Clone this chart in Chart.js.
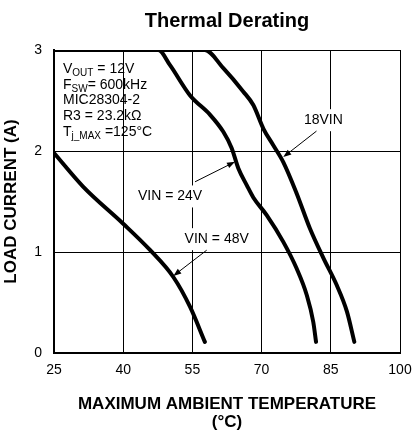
<!DOCTYPE html>
<html>
<head>
<meta charset="utf-8">
<script src="https://cdn.jsdelivr.net/npm/chart.js@4.4.1/dist/chart.umd.min.js"></script>
<style>
html, body { margin: 0; padding: 0; background: #fff; }
#wrap { width: 413px; height: 434px; }
</style>
</head>
<body>
<div id="wrap"><canvas id="myChart" width="413" height="434"></canvas></div>
<script>
const xTicks = [25, 40, 55, 70, 85, 100];
const yTicks = [0, 1, 2, 3];

// (temperature in C, load current in A)
const vin18Temp = [25, 57.7, 61.7, 66.0, 68.2, 70.4, 72.5, 74.7, 77.6, 80.5, 83.4, 86.3, 88.5, 90.1];
const vin18Load = [3, 3, 2.82, 2.59, 2.455, 2.22, 2.06, 1.89, 1.58, 1.23, 0.94, 0.67, 0.41, 0.11];

const vin24Temp = [25, 47.6, 50.15, 54.5, 58.8, 61.7, 63.5, 64.95, 66.8, 68.2, 71.1, 74.7, 77.6, 79.8, 81.2, 81.8];
const vin24Load = [3, 3, 2.85, 2.55, 2.36, 2.19, 2.03, 1.83, 1.66, 1.54, 1.365, 1.10, 0.836, 0.572, 0.307, 0.11];

const vin48Temp = [25, 31.35, 40.0, 45.8, 50.9, 54.5, 57.7];
const vin48Load = [1.98, 1.645, 1.28, 1.02, 0.75, 0.456, 0.11];

// curve labels: text position and arrow (from -> to), all in data units
const noteText = ['18VIN', 'VIN = 24V', 'VIN = 48V'];
const noteAt = [[83.4, 2.305], [50.15, 1.55], [60.27, 1.127]];
const arrowFrom = [[81.9, 2.197], [55.57, 1.695], [58.1, 1.018]];
const arrowTo = [[74.7, 1.94], [64.24, 1.893], [50.86, 0.763]];

// conditions box, [text, subscript] pieces per line
const infoLines = [
    [['V', 0], ['OUT', 1], [' = 12V', 0]],
    [['F', 0], ['SW', 1], ['= 600kHz', 0]],
    [['MIC28304-2', 0]],
    [['R3 = 23.2k\u03A9', 0]],
    [['T', 0], ['j_MAX', 1], [' =125\u00B0C', 0]]
];
const infoAt = [26.95, 2.81];

const FONT = '"Liberation Sans", Arial, Helvetica, sans-serif';

function pts(xs, ys){
    return xs.map((t, i) => ({x: t, y: ys[i]}));
}

function curve(label, xs, ys){
    return {
        label: label,
        data: pts(xs, ys),
        borderColor: '#000',
        backgroundColor: '#000',
        borderWidth: 4,
        borderCapStyle: 'round',
        borderJoinStyle: 'round',
        pointRadius: 0,
        cubicInterpolationMode: 'monotone',
        fill: false
    };
}

function arrow(ctx, x1, y1, x2, y2){
    const a = Math.atan2(y2 - y1, x2 - x1);
    const len = 8, w = 3;
    ctx.beginPath();
    ctx.moveTo(x1, y1);
    ctx.lineTo(x2 - Math.cos(a) * len * 0.8, y2 - Math.sin(a) * len * 0.8);
    ctx.stroke();
    ctx.beginPath();
    ctx.moveTo(x2, y2);
    ctx.lineTo(x2 - Math.cos(a) * len - Math.sin(a) * w, y2 - Math.sin(a) * len + Math.cos(a) * w);
    ctx.lineTo(x2 - Math.cos(a) * len + Math.sin(a) * w, y2 - Math.sin(a) * len - Math.cos(a) * w);
    ctx.closePath();
    ctx.fill();
}

const notesPlugin = {
    id: 'notes',
    beforeDatasetsDraw(chart){
        // white boxes behind the curve labels, they break the grid lines
        const {ctx} = chart;
        const xs = chart.scales.x, ys = chart.scales.y;
        ctx.save();
        ctx.font = '14px ' + FONT;
        ctx.fillStyle = '#fff';
        for (let i = 0; i < noteText.length; i++) {
            const w = ctx.measureText(noteText[i]).width + 6;
            const cx = xs.getPixelForValue(noteAt[i][0]);
            const cy = ys.getPixelForValue(noteAt[i][1]);
            ctx.fillRect(cx - w / 2, cy - 11, w, 22);
        }
        ctx.restore();
    },
    afterDatasetsDraw(chart){
        const {ctx} = chart;
        const xs = chart.scales.x, ys = chart.scales.y;
        ctx.save();
        ctx.fillStyle = '#000';
        ctx.strokeStyle = '#000';
        ctx.lineWidth = 1;
        ctx.font = '14px ' + FONT;
        ctx.textAlign = 'center';
        ctx.textBaseline = 'middle';
        for (let i = 0; i < noteText.length; i++) {
            ctx.fillText(noteText[i], xs.getPixelForValue(noteAt[i][0]), ys.getPixelForValue(noteAt[i][1]));
            arrow(ctx,
                xs.getPixelForValue(arrowFrom[i][0]), ys.getPixelForValue(arrowFrom[i][1]),
                xs.getPixelForValue(arrowTo[i][0]), ys.getPixelForValue(arrowTo[i][1]));
        }

        ctx.textAlign = 'left';
        const left = xs.getPixelForValue(infoAt[0]);
        let top = ys.getPixelForValue(infoAt[1]);
        for (const line of infoLines) {
            let px = left;
            for (const [txt, sub] of line) {
                ctx.font = (sub ? '10px ' : '14px ') + FONT;
                ctx.fillText(txt, px, top + (sub ? 4 : 0));
                px += ctx.measureText(txt).width;
            }
            top += 15.7;
        }
        ctx.restore();
    }
};

const ctx = document.getElementById('myChart');

new Chart(ctx, {
    type: 'line',
    data: {
        datasets: [
            curve('18VIN', vin18Temp, vin18Load),
            curve('VIN = 24V', vin24Temp, vin24Load),
            curve('VIN = 48V', vin48Temp, vin48Load)
        ]
    },
    options: {
        responsive: false,
        animation: false,
        layout: { padding: { left: 0, right: 13, top: 0, bottom: 0 } },
        plugins: {
            legend: { display: false },
            tooltip: { enabled: false },
            title: {
                display: true,
                fullSize: false,
                text: 'Thermal Derating',
                color: '#000',
                font: { family: FONT, size: 20, weight: 'bold', lineHeight: 1.2 },
                padding: { top: 9, bottom: 17 }
            }
        },
        scales: {
            x: {
                type: 'linear',
                min: 25,
                max: 100,
                afterBuildTicks: s => { s.ticks = xTicks.map(v => ({value: v})); },
                afterFit: s => { s.height = 81; s.paddingLeft = 0; s.paddingRight = 0; },
                ticks: { color: '#000', padding: 9, maxRotation: 0, font: { family: FONT, size: 14 } },
                grid: { color: '#000', lineWidth: 1, drawTicks: false },
                border: { color: '#000', width: 2 },
                title: {
                    display: true,
                    text: ['MAXIMUM AMBIENT TEMPERATURE', '(\u00B0C)'],
                    color: '#000',
                    font: { family: FONT, size: 17, weight: 'bold', lineHeight: 1.03 },
                    padding: { top: 0, bottom: 3 }
                }
            },
            y: {
                type: 'linear',
                min: 0,
                max: 3,
                afterBuildTicks: s => { s.ticks = yTicks.map(v => ({value: v})); },
                afterFit: s => { s.width = 54; s.paddingTop = 0; s.paddingBottom = 0; },
                ticks: { color: '#000', padding: 12, font: { family: FONT, size: 14 } },
                grid: { color: '#000', lineWidth: 1, drawTicks: false },
                border: { color: '#000', width: 2 },
                title: {
                    display: true,
                    text: 'LOAD CURRENT (A)',
                    color: '#000',
                    font: { family: FONT, size: 17, weight: 'bold', lineHeight: 1.03 },
                    padding: { top: 3, bottom: 0 }
                }
            }
        }
    },
    plugins: [notesPlugin]
});
</script>
</body>
</html>
